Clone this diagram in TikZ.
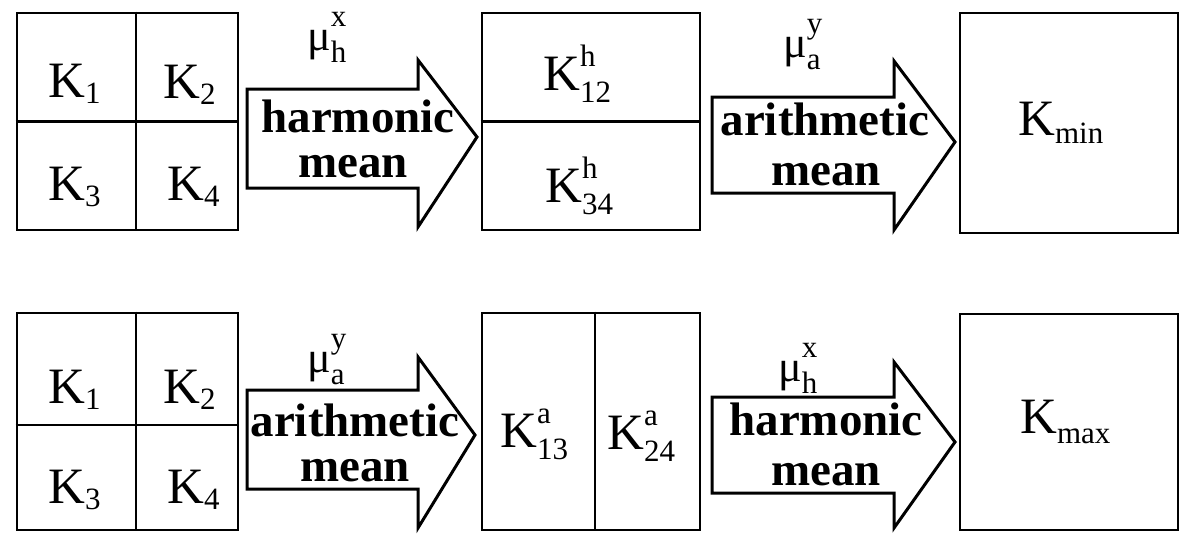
\documentclass[tikz,border=0pt]{standalone}
\usepackage{fontspec}
\setmainfont{Liberation Serif}
\usepackage{tikz}
\usetikzlibrary{calc}
\newcommand{\bigK}{\fontsize{51}{51}\selectfont}
\newcommand{\smallfs}{\fontsize{31}{31}\selectfont}
\newcommand{\bolds}{\fontsize{47}{47}\selectfont\bfseries}
% subscript only, and superscript stacked over subscript
\newcommand{\lsub}[2][6pt]{\raisebox{-#1}{\smallfs #2}}
\newcommand{\supsub}[2]{\rlap{\raisebox{24pt}{\smallfs #1}}\raisebox{-12pt}{\smallfs #2}}

\begin{document}
\begin{tikzpicture}[x=1pt, y=-1pt,
  cellbox/.style={draw, line width=2.6pt, inner sep=0pt},
  divider/.style={line width=2.2pt},
  blockarrow/.style={draw, fill=white, line width=3pt},
  klabel/.style={anchor=base west, inner sep=0pt, font=\bigK},
  mulabel/.style={anchor=base west, inner sep=0pt, font=\fontsize{44}{44}\selectfont},
  meanlabel/.style={anchor=base, inner sep=0pt, font=\bolds}]

\useasboundingbox (0,0) rectangle (1180,533);

% ---- Top row: harmonic then arithmetic -> K_min ----
\node[cellbox, minimum width=221pt, minimum height=217pt] (sqA) at (127.5,121.5) {};
\draw[divider] (sqA.west) -- (sqA.east);
\draw[divider] ($(sqA.north)+(8.5,0)$) -- ($(sqA.south)+(8.5,0)$);
\node[klabel] (kA1) at (48,97)  {K\lsub{1}};
\node[klabel] (kA2) at (163,98) {K\lsub{2}};
\node[klabel] (kA3) at (48,200) {K\lsub{3}};
\node[klabel] (kA4) at (167,200) {K\lsub{4}};

% arrow 1
\draw[blockarrow] (247,89) -- (418,89) -- (418,60) -- (477,137)
  -- (418,227) -- (418,188) -- (247,188) -- cycle;
\node[mulabel] (muA1) at (307,50) {μ\supsub{x}{h}};
\node[meanlabel] (hA1) at (358,132) {harmonic};
\node[meanlabel] (mA1) at (353,177) {mean};

\node[cellbox, minimum width=218pt, minimum height=217pt] (rcA) at (591,121.5) {};
\draw[divider] (rcA.west) -- (rcA.east);
\node[klabel] (kA12) at (543,90)  {K\supsub{h}{12}};
\node[klabel] (kA34) at (545,202) {K\supsub{h}{34}};

% arrow 2
\draw[blockarrow] (712,97) -- (894,97) -- (894,61) -- (955,142)
  -- (894,230) -- (894,193) -- (712,193) -- cycle;
\node[mulabel] (muA2) at (783,57) {μ\supsub{y}{a}};
\node[meanlabel] (hA2) at (825,135) {arithmetic};
\node[meanlabel] (mA2) at (826,185) {mean};

\node[cellbox, minimum width=218pt, minimum height=220pt] (kmin) at (1069,123) {};
\node[klabel] (kmintx) at (1018,135) {K\lsub[8pt]{min}};

% ---- Bottom row: arithmetic then harmonic -> K_max ----
\node[cellbox, minimum width=221pt, minimum height=217pt] (sqB) at (127.5,421.5) {};
\draw[divider] ($(sqB.west)+(0,3.5)$) -- ($(sqB.east)+(0,3.5)$);
\draw[divider] ($(sqB.north)+(8.5,0)$) -- ($(sqB.south)+(8.5,0)$);
\node[klabel] (kB1) at (48,403)  {K\lsub{1}};
\node[klabel] (kB2) at (163,403) {K\lsub{2}};
\node[klabel] (kB3) at (48,503)  {K\lsub{3}};
\node[klabel] (kB4) at (167,503) {K\lsub{4}};

% arrow 3
\draw[blockarrow] (247,390) -- (418,390) -- (418,357) -- (475,435)
  -- (418,528) -- (418,489) -- (247,489) -- cycle;
\node[mulabel] (muB1) at (307,372) {μ\supsub{y}{a}};
\node[meanlabel] (hB1) at (355,436) {arithmetic};
\node[meanlabel] (mB1) at (355,481) {mean};

\node[cellbox, minimum width=218pt, minimum height=217pt] (rcB) at (591,421.5) {};
\draw[divider] ($(rcB.north)+(4,0)$) -- ($(rcB.south)+(4,0)$);
\node[klabel] (kB13) at (500,447) {K\supsub{a}{13}};
\node[klabel] (kB24) at (607,449) {K\supsub{a}{24}};

% arrow 4
\draw[blockarrow] (712,397) -- (894,397) -- (894,362) -- (955,442)
  -- (894,528) -- (894,493) -- (712,493) -- cycle;
\node[mulabel] (muB2) at (778,381) {μ\supsub{x}{h}};
\node[meanlabel] (hB2) at (826,435) {harmonic};
\node[meanlabel] (mB2) at (826,485) {mean};

\node[cellbox, minimum width=218pt, minimum height=216pt] (kmax) at (1069,422) {};
\node[klabel] (kmaxtx) at (1020,433) {K\lsub[10pt]{max}};

\end{tikzpicture}
\end{document}
